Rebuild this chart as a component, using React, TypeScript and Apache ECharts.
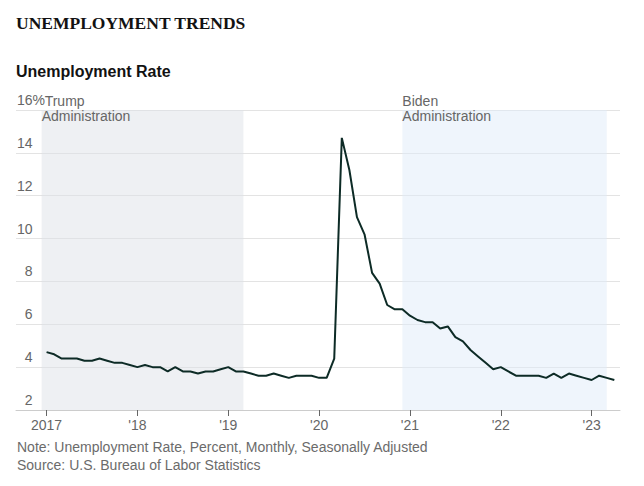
import React, { useEffect, useRef } from "react";
import * as echarts from "echarts";

// Monthly unemployment rate, Jan 2017 – Apr 2023 (percent)
const rate2017 = [4.7, 4.6, 4.4, 4.4, 4.4, 4.3, 4.3, 4.4, 4.3, 4.2, 4.2, 4.1];
const rate2018 = [4.0, 4.1, 4.0, 4.0, 3.8, 4.0, 3.8, 3.8, 3.7, 3.8, 3.8, 3.9];
const rate2019 = [4.0, 3.8, 3.8, 3.7, 3.6, 3.6, 3.7, 3.6, 3.5, 3.6, 3.6, 3.6];
const rate2020 = [3.5, 3.5, 4.4, 14.7, 13.2, 11.0, 10.2, 8.4, 7.9, 6.9, 6.7, 6.7];
const rate2021 = [6.4, 6.2, 6.1, 6.1, 5.8, 5.9, 5.4, 5.2, 4.8, 4.5, 4.2, 3.9];
const rate2022 = [4.0, 3.8, 3.6, 3.6, 3.6, 3.6, 3.5, 3.7, 3.5, 3.7, 3.6, 3.5];
const rate2023 = [3.4, 3.6, 3.5, 3.4];

// x positions in months since Jan 2017
const yearTickMonths = [0, 12, 24, 36, 48, 60, 72];
const yearTickLabels = ["2017", "'18", "'19", "'20", "'21", "'22", "'23"];

// Shaded administration bands (months since Jan 2017)
const trumpBand = [-0.65, 26];
const bidenBand = [47, 74];
const bandNames = ["Trump", "Biden"];

const yTicks = [2, 4, 6, 8, 10, 12, 14, 16];

const SANS = "'Liberation Sans', Arial, Helvetica, sans-serif";

export default function App() {
  const ref = useRef<HTMLDivElement>(null);

  useEffect(() => {
    if (!ref.current) return;
    const chart = echarts.init(ref.current, null, { renderer: "svg" });
    const values = [
      ...rate2017,
      ...rate2018,
      ...rate2019,
      ...rate2020,
      ...rate2021,
      ...rate2022,
      ...rate2023,
    ];
    const data = values.map((v, i) => [i, v]);

    const bandLabel = (name: string, padLeft: number) => ({
      show: true,
      position: [0, -16],
      formatter: `{a|${name}}\n{b|Administration}`,
      rich: {
        a: {
          fontSize: 14,
          fontFamily: SANS,
          color: "#666",
          lineHeight: 14.5,
          padding: [0, 0, 0, padLeft],
        },
        b: {
          fontSize: 14,
          fontFamily: SANS,
          color: "#666",
          lineHeight: 14.5,
        },
      },
    });

    chart.setOption({
      animation: false,
      backgroundColor: "#ffffff",
      title: [
        {
          text: "UNEMPLOYMENT TRENDS",
          left: 16,
          top: 14,
          padding: 0,
          textStyle: {
            fontFamily: "'Liberation Serif', 'Times New Roman', serif",
            fontWeight: "bold",
            fontSize: 17.5,
            color: "#121212",
          },
        },
        {
          text: "Unemployment Rate",
          left: 16,
          top: 63,
          padding: 0,
          textStyle: {
            fontFamily: SANS,
            fontWeight: "bold",
            fontSize: 16,
            color: "#121212",
          },
        },
      ],
      graphic: [
        {
          type: "text",
          left: 17,
          top: 440,
          style: {
            text: "Note: Unemployment Rate, Percent, Monthly, Seasonally Adjusted",
            fontFamily: SANS,
            fontSize: 14,
            fill: "#6b6b6b",
          },
        },
        {
          type: "text",
          left: 17,
          top: 458,
          style: {
            text: "Source: U.S. Bureau of Labor Statistics",
            fontFamily: SANS,
            fontSize: 14,
            fill: "#6b6b6b",
          },
        },
      ],
      grid: { left: 16, right: 24, top: 110, bottom: 76, containLabel: false },
      xAxis: {
        type: "value",
        min: -4.04,
        max: 75.75,
        splitLine: { show: false },
        axisLine: { show: true, lineStyle: { color: "#cccccc", width: 1 } },
        axisTick: {
          show: true,
          customValues: yearTickMonths,
          length: 6,
          lineStyle: { color: "#666666", width: 1 },
        },
        axisLabel: {
          customValues: yearTickMonths,
          formatter: (v: number) => yearTickLabels[yearTickMonths.indexOf(v)] ?? "",
          fontFamily: SANS,
          fontSize: 14,
          color: "#666666",
          margin: 8,
        },
      },
      yAxis: {
        type: "value",
        min: 2,
        max: 16,
        interval: 2,
        axisLine: { show: false },
        axisTick: { show: false },
        splitLine: { show: true, lineStyle: { color: "#e3e3e3", width: 1 } },
        axisLabel: {
          inside: true,
          align: "left",
          verticalAlign: "bottom",
          margin: 1,
          padding: [0, 0, 3, 0],
          customValues: yTicks,
          formatter: (v: number) =>
            v === 16 ? "{v|16%}" : v < 10 ? `{p| }{v|${v}}` : `{v|${v}}`,
          rich: {
            v: { fontFamily: SANS, fontSize: 14, color: "#666666" },
            p: { fontFamily: SANS, fontSize: 14, width: 7.8 },
          },
        },
      },
      series: [
        {
          type: "line",
          data,
          showSymbol: false,
          symbol: "none",
          lineStyle: { color: "#0d2b26", width: 2 },
          itemStyle: { color: "#0d2b26" },
          z: 5,
          markArea: {
            silent: true,
            data: [
              [
                {
                  xAxis: trumpBand[0],
                  itemStyle: { color: "rgba(222,225,232,0.5)" },
                  label: bandLabel(bandNames[0], 3),
                },
                { xAxis: trumpBand[1] },
              ],
              [
                {
                  xAxis: bidenBand[0],
                  itemStyle: { color: "rgba(224,235,250,0.5)" },
                  label: bandLabel(bandNames[1], 0),
                },
                { xAxis: bidenBand[1] },
              ],
            ],
          },
        },
      ],
    });

    return () => chart.dispose();
  }, []);

  return (
    <div
      ref={ref}
      style={{ position: "fixed", left: 0, top: 0, width: 644, height: 486 }}
    />
  );
}
